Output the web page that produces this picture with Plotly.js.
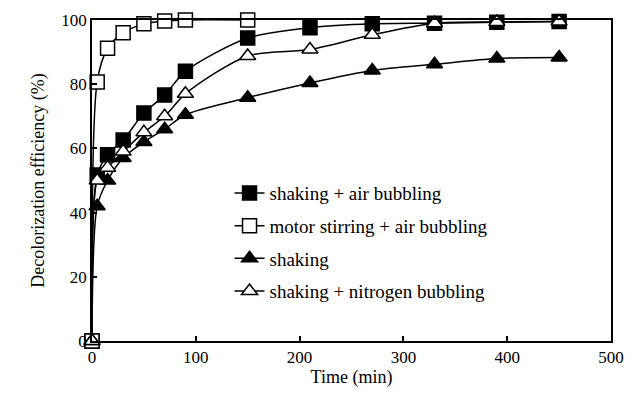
<!DOCTYPE html>
<html>
<head>
<meta charset="utf-8">
<script src="https://cdn.plot.ly/plotly-3.0.1.min.js"></script>
</head>
<body style="margin:0;background:#fff">
<div id="chart" style="width:632px;height:397px"></div>
<script>
const time = [0, 5, 15, 30, 50, 70, 90, 150, 210, 270, 330, 390, 450];
const timeMotor = [0, 5, 15, 30, 50, 70, 90, 150];
const shakingAir = [0, 51.7, 58, 62.6, 71, 76.6, 84, 94.4, 97.6, 98.8, 99, 99.3, 99.5];
const motorAir = [0, 80.7, 91.2, 96, 98.8, 99.7, 100, 100];
const shaking = [0, 42, 50, 57, 62, 66, 70.5, 75.8, 80.4, 84.3, 86.2, 88, 88.3];
const shakingN2 = [0, 50, 54, 59, 65, 70, 77, 88.8, 90.8, 95.4, 99, 99.4, 99.5];
const names = ["shaking + air bubbling", "motor stirring + air bubbling", "shaking", "shaking + nitrogen bubbling"];

var FF = "Liberation Serif";
function mk(x, y, name, symbol, fill, grp) {
  return {
    x: x, y: y, name: name, type: 'scatter', mode: 'lines+markers',
    line: {color: '#000', width: 1.5, shape: 'spline', smoothing: 0.8},
    marker: {symbol: symbol, size: 14, color: fill, line: {color: '#000', width: 1.5}},
    cliponaxis: false, legendgroup: grp
  };
}
var traces = [
  mk(time, shakingAir, names[0], 'square', '#000', 'a'),
  mk(timeMotor, motorAir, names[1], 'square', '#fff', 'b'),
  mk(time, shaking, names[2], 'triangle-up', '#000', 'c'),
  mk(time, shakingN2, names[3], 'triangle-up', '#fff', 'd')
];
function ax(extra) {
  var o = {
    showline: true, linecolor: '#000', linewidth: 1.5, mirror: true,
    ticks: 'inside', ticklen: 5, tickwidth: 1.5, tickcolor: '#000',
    showgrid: false, zeroline: false,
    tickfont: {family: FF, size: 17, color: '#000'}
  };
  for (var k in extra) o[k] = extra[k];
  return o;
}
var lay = {
  width: 632, height: 397,
  margin: {l: 92, r: 21, t: 20, b: 56},
  paper_bgcolor: '#fff', plot_bgcolor: '#fff',
  font: {family: FF, size: 16, color: '#000'},
  xaxis: ax({range: [0, 500], dtick: 100,
    title: {text: 'Time (min)', font: {family: FF, size: 18, color: '#000'}, standoff: 4}}),
  yaxis: ax({range: [0, 100], dtick: 20,
    title: {text: 'Decolorization efficiency (%)', font: {family: FF, size: 18, color: '#000'}, standoff: 12}}),
  showlegend: true,
  legend: {x: 0.265, y: 0.52, xanchor: 'left', yanchor: 'top', bgcolor: 'rgba(0,0,0,0)',
    font: {family: FF, size: 19, color: '#000'}, tracegroupgap: 5, traceorder: 'grouped'}
};
Plotly.newPlot('chart', traces, lay, {displayModeBar: false});
</script>
</body>
</html>
